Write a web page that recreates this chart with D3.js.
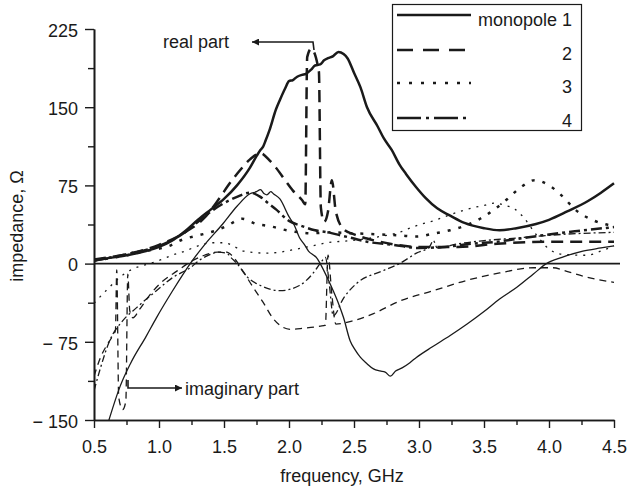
<!DOCTYPE html>
<html>
<head>
<meta charset="utf-8">
<script src="https://cdn.jsdelivr.net/npm/d3@7"></script>
<style>
  html, body { margin: 0; padding: 0; background: #fff; }
  svg { display: block; }
  text { font-family: "Liberation Sans", Arial, Helvetica, sans-serif; fill: #1a1a1a; }
</style>
</head>
<body>
<svg id="chart" width="628" height="492"></svg>
<script>
// ---------- data (frequency GHz, impedance Ohm) ----------
const re1 = [[0.5,3],[0.6,5],[0.75,8],[0.9,12],[1.0,16],[1.1,22],[1.2,31],[1.3,42],[1.4,52],[1.5,62],[1.6,75],[1.7,92],[1.75,103],[1.78,109],[1.8,112],[1.82,118],[1.85,128],[1.9,148],[1.93,157],[1.97,168],[2.0,175],[2.03,176],[2.06,179],[2.1,181],[2.13,182],[2.17,186],[2.2,190],[2.24,191],[2.27,195],[2.3,197],[2.34,199],[2.38,203],[2.42,201],[2.45,197],[2.5,183],[2.55,169],[2.6,150],[2.68,132],[2.73,120],[2.79,109],[2.85,95],[2.9,86],[2.98,73],[3.05,63],[3.14,53],[3.24,46],[3.35,39],[3.5,34],[3.62,32],[3.75,34],[3.9,38],[4.0,42],[4.14,50],[4.3,60],[4.4,68],[4.5,77]];
const re2 = [[0.5,4],[0.75,9],[1.0,18],[1.2,30],[1.35,44],[1.45,60],[1.55,78],[1.62,89],[1.7,100],[1.78,106],[1.85,99],[1.9,92],[1.97,80],[2.03,70],[2.1,61],[2.125,57],[2.14,198],[2.17,206],[2.23,184],[2.245,54],[2.27,40],[2.3,50],[2.33,80],[2.36,50],[2.42,33],[2.5,28],[2.6,24],[2.7,21],[3.0,16],[3.3,16],[3.6,19],[4.0,21],[4.5,21]];
const re3 = [[0.5,3],[0.75,8],[0.9,12],[1.08,17],[1.18,23],[1.3,27],[1.42,31],[1.52,36],[1.64,43],[1.75,38],[1.85,36],[1.98,32],[2.08,30],[2.16,29],[2.32,30],[2.5,29],[2.7,28],[2.85,27],[2.98,26],[3.12,29],[3.24,32],[3.37,37],[3.47,43],[3.58,52],[3.68,62],[3.78,73],[3.89,80],[4.0,75],[4.1,65],[4.2,52],[4.35,41],[4.5,36]];
const re4 = [[0.5,3],[0.75,9],[1.0,17],[1.2,30],[1.3,40],[1.4,50],[1.5,58],[1.6,64],[1.7,68],[1.78,64],[1.84,58],[1.9,52],[2.0,41],[2.1,36],[2.2,32],[2.3,30],[2.4,27],[2.5,24],[2.6,21],[2.8,18],[3.0,15],[3.2,16],[3.4,19],[3.6,21],[3.72,23],[4.0,28],[4.2,31],[4.5,35]];
const im1 = [[0.5,-195],[0.55,-178],[0.62,-148],[0.7,-118],[0.78,-96],[0.9,-70],[0.98,-52],[1.1,-27],[1.24,0],[1.35,18],[1.49,38],[1.6,55],[1.7,67],[1.75,69],[1.78,71],[1.81,67],[1.83,66],[1.86,69],[1.88,67],[1.93,62],[2.0,45],[2.04,37],[2.08,25],[2.12,18],[2.15,12],[2.19,8],[2.21,6],[2.24,0],[2.3,-15],[2.34,-26],[2.38,-38],[2.42,-52],[2.47,-74],[2.51,-83],[2.55,-90],[2.6,-96],[2.65,-101],[2.7,-103],[2.74,-104],[2.78,-108],[2.82,-103],[2.87,-100],[2.93,-95],[2.98,-90],[3.1,-80],[3.24,-69],[3.37,-58],[3.5,-46],[3.62,-34],[3.75,-23],[3.88,-10],[3.98,0],[4.1,6],[4.26,12],[4.4,15],[4.5,17]];
const im2 = [[0.5,-108],[0.55,-90],[0.6,-78],[0.65,-68],[0.665,-64],[0.675,-6],[0.69,-128],[0.72,-140],[0.745,-132],[0.76,-10],[0.775,-45],[0.8,-52],[0.85,-44],[0.93,-30],[1.01,-19],[1.14,-7],[1.26,3],[1.35,8],[1.45,11],[1.52,11],[1.58,5],[1.65,-8],[1.72,-22],[1.8,-37],[1.88,-53],[2.01,-63],[2.11,-62],[2.24,-60],[2.28,-59],[2.3,8],[2.33,-30],[2.36,-58],[2.49,-55],[2.65,-48],[2.85,-36],[3.11,-26],[3.37,-16],[3.62,-9],[3.88,-4],[4.03,-4],[4.15,-8],[4.26,-12],[4.5,-18]];
const im3 = [[0.5,-38],[0.6,-25],[0.7,-13],[0.8,-5],[0.9,-1],[1.0,3],[1.1,8],[1.2,12],[1.3,17],[1.4,20],[1.5,20],[1.6,15],[1.65,12],[1.83,10],[1.93,11],[2.06,14],[2.18,17],[2.29,20],[2.47,22],[2.7,26],[2.85,30],[2.95,35],[3.02,38],[3.11,41],[3.22,46],[3.34,51],[3.43,54],[3.51,56],[3.58,58],[3.66,56],[3.74,52],[3.8,45],[3.9,28],[4.0,14],[4.1,9],[4.29,8],[4.4,12],[4.5,17]];
const im4 = [[0.5,-122],[0.55,-100],[0.62,-74],[0.72,-55],[0.83,-42],[0.98,-26],[1.11,-13],[1.24,-4],[1.32,4],[1.4,9],[1.45,11],[1.52,10],[1.56,5],[1.6,0],[1.68,-13],[1.78,-21],[1.93,-26],[2.08,-21],[2.18,-10],[2.24,0],[2.28,6],[2.31,-20],[2.34,-50],[2.42,-33],[2.52,-19],[2.72,-7],[2.85,0],[2.98,10],[3.08,16],[3.11,22],[3.14,15],[3.3,19],[3.5,22],[3.8,25],[4.1,28],[4.5,30]];

const xTicks = [0.5, 1.0, 1.5, 2.0, 2.5, 3.0, 3.5, 4.0, 4.5];
const xTickLabels = ["0.5","1.0","1.5","2.0","2.5","3.0","3.5","4.0","4.5"];
const xMinor = [0.75, 1.25, 1.75, 2.25, 2.75, 3.25, 3.75, 4.25];
const yTicks = [-150, -75, 0, 75, 150, 225];
const yTickLabels = ["\u2212 150", "\u2212 75", "0", "75", "150", "225"];
const yMinor = [-112.5, -37.5, 37.5, 112.5, 187.5];
const legendLabels = ["monopole 1", "2", "3", "4"];

// ---------- layout ----------
const svg = d3.select("#chart");
const x = d3.scaleLinear().domain([0.5, 4.5]).range([94, 614]);
const y = d3.scaleLinear().domain([-150, 225]).range([420, 29]);
const ink = "#1a1a1a";
const FS = 18;

svg.append("defs").append("clipPath").attr("id", "plotclip")
  .append("rect").attr("x", 94).attr("y", 20).attr("width", 524).attr("height", 400);

// styles: solid, dashed, dotted, dash-dot
const thickDash = [null, "12,7", "3,8", "11,4,3,4"];
const thinDash  = [null, "7,5", "2,6", "7,3,2,3"];
const legendDash = [null, "16,10", "3,9", "24,5,3,5"];

const line = d3.line().x(d => x(d[0])).y(d => y(d[1])).curve(d3.curveMonotoneX);

svg.append("line")
  .attr("x1", x(0.5)).attr("x2", 620)
  .attr("y1", y(0)).attr("y2", y(0))
  .attr("stroke", ink).attr("stroke-width", 1.6);

const plot = svg.append("g").attr("clip-path", "url(#plotclip)");
const imag = [im1, im2, im3, im4];
const real = [re1, re2, re3, re4];
imag.forEach((s, i) => {
  plot.append("path").datum(s).attr("d", line)
    .attr("fill", "none").attr("stroke", ink).attr("stroke-width", 1.3)
    .attr("stroke-dasharray", thinDash[i]).attr("stroke-linejoin", "round");
});
real.forEach((s, i) => {
  plot.append("path").datum(s).attr("d", line)
    .attr("fill", "none").attr("stroke", ink).attr("stroke-width", 2.5)
    .attr("stroke-dasharray", thickDash[i]).attr("stroke-linejoin", "round");
});

const xAxis = d3.axisBottom(x).tickValues(xTicks)
  .tickFormat((d, i) => xTickLabels[i]).tickSize(8).tickPadding(12).tickSizeOuter(0);
const xAxisMinor = d3.axisBottom(x).tickValues(xMinor).tickFormat("").tickSize(5).tickSizeOuter(0);
const yAxis = d3.axisLeft(y).tickValues(yTicks)
  .tickFormat((d, i) => yTickLabels[i]).tickSize(9).tickPadding(7).tickSizeOuter(0);
const yAxisMinor = d3.axisLeft(y).tickValues(yMinor).tickFormat("").tickSize(6).tickSizeOuter(0);

function styleAxis(g) {
  g.selectAll("path.domain").attr("stroke", ink).attr("stroke-width", 1.6);
  g.selectAll(".tick line").attr("stroke", ink).attr("stroke-width", 1.4);
  g.selectAll("text").attr("font-size", FS).attr("fill", ink)
    .style("font-family", "'Liberation Sans', Arial, sans-serif");
}
svg.append("g").attr("transform", "translate(0,420)").call(xAxisMinor).call(styleAxis);
svg.append("g").attr("transform", "translate(0,420)").call(xAxis).call(styleAxis);
svg.append("g").attr("transform", "translate(94,0)").call(yAxisMinor).call(styleAxis);
const yg = svg.append("g").attr("transform", "translate(94,0)").call(yAxis).call(styleAxis);
yg.selectAll("text").attr("dy", "0.40em");

svg.append("text").attr("x", 342).attr("y", 482).attr("text-anchor", "middle")
  .attr("font-size", FS).text("frequency, GHz");
svg.append("text").attr("transform", "translate(23,226) rotate(-90)")
  .attr("text-anchor", "middle").attr("font-size", FS).text("impedance, \u03A9");

svg.append("defs").append("marker").attr("id", "arrow")
  .attr("viewBox", "0 0 10 10").attr("refX", 10).attr("refY", 5)
  .attr("markerWidth", 11).attr("markerHeight", 7).attr("markerUnits", "userSpaceOnUse")
  .attr("orient", "auto")
  .append("path").attr("d", "M0,0 L10,5 L0,10 Z").attr("fill", ink);

svg.append("text").attr("x", 163).attr("y", 48).attr("font-size", FS).text("real part");
svg.append("path").attr("d", "M314,50 L313,42 L252,42")
  .attr("fill", "none").attr("stroke", ink).attr("stroke-width", 1.6)
  .attr("marker-end", "url(#arrow)");

svg.append("text").attr("x", 185).attr("y", 395).attr("font-size", FS).text("imaginary part");
svg.append("path").attr("d", "M128,380 L128,388 L182,388")
  .attr("fill", "none").attr("stroke", ink).attr("stroke-width", 1.6)
  .attr("marker-end", "url(#arrow)");

const lg = svg.append("g");
lg.append("rect").attr("x", 392.5).attr("y", 4.5).attr("width", 189).attr("height", 126)
  .attr("fill", "#fff").attr("stroke", ink).attr("stroke-width", 1.2);
const rowY = [15, 50, 83, 118];
const rowText = [26, 60, 93, 127];
legendLabels.forEach((lab, i) => {
  lg.append("line").attr("x1", 397).attr("x2", 471).attr("y1", rowY[i]).attr("y2", rowY[i])
    .attr("stroke", ink).attr("stroke-width", 2.6).attr("stroke-dasharray", legendDash[i]);
  lg.append("text").attr("x", 572).attr("y", rowText[i]).attr("text-anchor", "end")
    .attr("font-size", FS).text(lab);
});
</script>
</body>
</html>
